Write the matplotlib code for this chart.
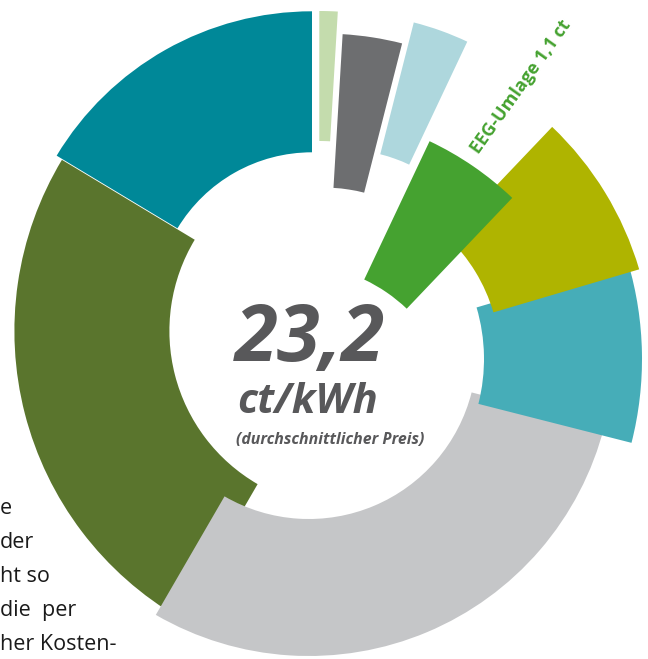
import numpy as np
import matplotlib.pyplot as plt
from matplotlib.patches import Wedge

# Strompreis-Bestandteile in ct/kWh, im Uhrzeigersinn ab 12 Uhr
parts = ['KWK', 'Teil 2', 'Teil 3', 'EEG-Umlage', 'Teil 5', 'Teil 6', 'Teil 7', 'Teil 8', 'Teil 9']
values = [0.22, 0.70, 0.71, 1.18, 1.93, 1.98, 6.82, 5.86, 3.80]
total_label = '23,2'
unit_label = 'ct/kWh'
sub_label = '(durchschnittlicher Preis)'
eeg_label = 'EEG-Umlage 1,1 ct'
body_lines = ['e', 'der', 'ht so', 'die  per', 'her Kosten-']

# Stil: Farben, Versatz der Segmente (Pixel) und Radien
colors = ['#c4dcad', '#6d6e70', '#aed7dd', '#45a230', '#afb400',
          '#46adb8', '#c5c6c8', '#5a752d', '#008898']
offsets = [(-0.7, -23), (3.7, 6.6), (20.8, -35.7), (-25, 81), (9.4, 15.8),
           (-18, 14), (-11.2, 6), (26.4, -14), (-8, -35.7)]
r_out = [311, 318, 296, 315, 323, 340, 305, 332, 298]
r_in = [181, 164, 160, 162, 171, 182, 168, 177, 157]

W, H = 648, 659
base = (320, 345)

fig = plt.figure(figsize=(W/100, H/100), dpi=100)
ax = fig.add_axes([0, 0, 1, 1])
ax.set_xlim(0, W)
ax.set_ylim(0, H)
ax.axis('off')

# Winkel im Uhrzeigersinn ab oben aus den Werten
cum = np.concatenate([[0], np.cumsum(values)]) / sum(values) * 360

# von hinten nach vorne zeichnen, damit die Ueberlappungen stimmen
for i in reversed(range(len(values))):
    cx = base[0] + offsets[i][0]
    cy = H - (base[1] + offsets[i][1])
    w = Wedge((cx, cy), r_out[i], 90 - cum[i+1], 90 - cum[i],
              width=r_out[i] - r_in[i], facecolor=colors[i], edgecolor='none')
    ax.add_patch(w)

fam = ['Open Sans', 'DejaVu Sans']
ax.text(235, H - 361, total_label, fontsize=56, fontweight='bold', style='italic',
        color='#58585a', family=fam, ha='left', va='baseline')
ax.text(237, H - 413, unit_label, fontsize=30, fontweight='bold', style='italic',
        color='#58585a', family=fam, ha='left', va='baseline')
ax.text(236, H - 444, sub_label, fontsize=11.4, fontweight='bold', style='italic',
        color='#58585a', family=fam, ha='left', va='baseline')

ax.text(521, H - 87, eeg_label, fontsize=13, fontweight='bold', color='#45a230',
        family=fam, rotation=54.5, rotation_mode='anchor', ha='center', va='center')

for k, line in enumerate(body_lines):
    ax.text(0, H - (514 + 34*k), line, fontsize=15.5, color='#1a1a1a',
            family=fam, ha='left', va='baseline')

fig.savefig('out.png', dpi=100)
